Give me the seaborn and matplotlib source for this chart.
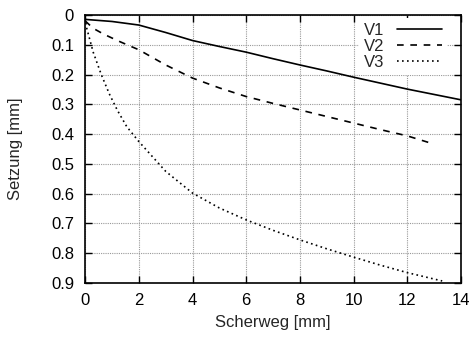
import matplotlib
matplotlib.use("Agg")
import matplotlib.pyplot as plt
import seaborn as sns
import pandas as pd

# Measured settlement curves (shear displacement in mm, settlement in mm)
v1_x = [0, 1, 2, 3, 4, 5, 6, 7, 8, 9, 10, 11, 12, 13, 14]
v1_y = [0.015, 0.022, 0.034, 0.059, 0.086, 0.106, 0.125, 0.147, 0.168, 0.188,
        0.209, 0.229, 0.249, 0.267, 0.285]

v2_x = [0, 0.3, 0.7, 1.3, 2, 3, 4, 5, 6, 7, 8, 9, 10, 11, 12, 12.9]
v2_y = [0.02, 0.045, 0.065, 0.09, 0.117, 0.168, 0.212, 0.245, 0.274, 0.297,
        0.319, 0.341, 0.363, 0.385, 0.406, 0.431]

v3_x = [0, 0.06, 0.3, 0.6, 0.9, 1.2, 1.55, 2, 3, 4, 5, 6, 7, 8, 9, 10, 11, 12, 13.3]
v3_y = [0.01, 0.045, 0.125, 0.2, 0.265, 0.32, 0.375, 0.425, 0.525, 0.598, 0.648,
        0.688, 0.723, 0.755, 0.785, 0.813, 0.84, 0.865, 0.893]

series_names = ["V1", "V2", "V3"]
x_ticks = [0, 2, 4, 6, 8, 10, 12, 14]
y_ticks = [0, 0.1, 0.2, 0.3, 0.4, 0.5, 0.6, 0.7, 0.8, 0.9]
y_tick_labels = ["0", "0.1", "0.2", "0.3", "0.4", "0.5", "0.6", "0.7", "0.8", "0.9"]

frames = []
for name, xs, ys in zip(series_names, [v1_x, v2_x, v3_x], [v1_y, v2_y, v3_y]):
    frames.append(pd.DataFrame({"Scherweg": xs, "Setzung": ys, "Versuch": name}))
df = pd.concat(frames, ignore_index=True)

sns.set_style("white")
plt.rcParams["font.family"] = ["Liberation Sans", "DejaVu Sans"]
plt.rcParams["font.size"] = 12

fig = plt.figure(figsize=(4.73, 3.39), dpi=100)
ax = fig.add_axes([0.18, 0.165, 0.7946, 0.791])

sns.lineplot(
    data=df, x="Scherweg", y="Setzung", hue="Versuch", style="Versuch",
    palette=["black", "black", "black"],
    dashes={"V1": "", "V2": (4, 4), "V3": (1, 2)},
    sort=False, estimator=None, linewidth=1.2, ax=ax,
)

ax.set_xlim(0, 14)
ax.set_ylim(0.9, 0)
ax.set_xticks(x_ticks)
ax.set_xticklabels([str(t) for t in x_ticks])
ax.set_yticks(y_ticks)
ax.set_yticklabels(y_tick_labels)

ax.grid(True, color="#999999", linestyle=(0, (1, 1)), linewidth=0.8)
ax.set_axisbelow(True)
for sp in ax.spines.values():
    sp.set_color("black")
    sp.set_linewidth(1.2)
    sp.set_visible(True)

ax.tick_params(axis="both", which="major", direction="in", length=5, width=1,
               top=True, right=True, bottom=True, left=True, labelsize=12,
               colors="black")
ax.tick_params(axis="y", pad=8)
ax.tick_params(axis="x", pad=7)

ax.set_xlabel("Scherweg [mm]", fontsize=12)
ax.set_ylabel("Setzung [mm]", fontsize=12)
ax.xaxis.set_label_coords(0.4987, -0.12)
ax.yaxis.set_label_coords(-0.165, 0.5)

leg = ax.legend(loc="upper right", bbox_to_anchor=(0.963, 0.99),
                markerfirst=False, frameon=True,
                fontsize=12, handlelength=2.7, labelspacing=0.07,
                borderaxespad=0.0, handletextpad=0.78, borderpad=0.3)
leg.get_frame().set_facecolor("white")
leg.get_frame().set_edgecolor("none")
leg.get_frame().set_alpha(1)
leg.get_frame().set_boxstyle("square", pad=0)
for t in leg.get_texts():
    t.set_ha("right")

fig.savefig("out.png", dpi=100)
